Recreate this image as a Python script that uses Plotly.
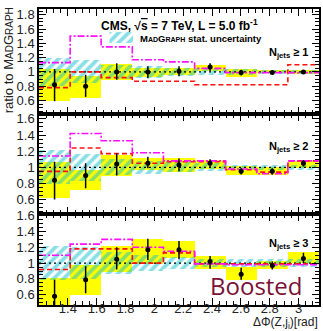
import plotly.graph_objects as go

# ---------------- data ----------------
bin_edges = [1.2, 1.416, 1.631, 1.847, 2.063, 2.279, 2.494, 2.710, 2.926, 3.142]

# Njets >= 1
data1 = [0.82, 0.80, 1.00, 1.00, 1.01, 1.07, 0.99, 0.99, 1.00]
err_hi1 = [1.04, 0.96, 1.12, 1.08, 1.08, 1.12, 1.03, 1.02, 1.02]
err_lo1 = [0.59, 0.65, 0.89, 0.91, 0.94, 1.01, 0.95, 0.97, 0.98]
syst_hi1 = [1.04, 0.94, 1.11, 1.06, 1.06, 1.10, 1.04, 1.02, 1.03]
syst_lo1 = [0.60, 0.64, 0.89, 0.93, 0.95, 1.01, 0.93, 0.98, 0.97]
mcstat1 = [0.20, 0.16, 0.10, 0.08, 0.06, 0.05, 0.04, 0.03, 0.03]
red1 = [0.78, 1.00, 0.92, 0.87, 0.87, 0.82, 0.82, 0.82, 1.10]
mag1 = [1.13, 1.50, 1.35, 1.17, 1.14, 1.05, 0.99, 0.99, 0.99]

# Njets >= 2
data2 = [0.84, 0.90, 1.04, 1.05, 1.03, 1.05, 0.95, 0.95, 1.05]
err_hi2 = [1.07, 1.05, 1.17, 1.13, 1.11, 1.10, 0.99, 0.99, 1.09]
err_lo2 = [0.60, 0.74, 0.90, 0.99, 0.95, 1.00, 0.91, 0.91, 1.01]
syst_hi2 = [1.07, 0.96, 1.15, 1.12, 1.12, 1.09, 1.01, 1.00, 1.08]
syst_lo2 = [0.62, 0.72, 0.89, 0.97, 0.94, 0.98, 0.91, 0.91, 0.99]
mcstat2 = [0.21, 0.17, 0.10, 0.08, 0.06, 0.05, 0.03, 0.03, 0.03]
red2 = [0.95, 1.24, 1.17, 1.05, 1.07, 1.07, 0.97, 0.94, 1.08]
mag2 = [1.14, 1.42, 1.33, 1.18, 1.08, 1.08, 0.98, 0.92, 1.08]

# Njets >= 3
data3 = [0.58, 0.79, 1.05, 1.17, 1.17, 1.02, 0.86, 0.97, 1.06]
err_hi3 = [0.79, 0.96, 1.20, 1.31, 1.28, 1.09, 0.94, 1.02, 1.13]
err_lo3 = [0.45, 0.62, 0.92, 1.04, 1.05, 0.93, 0.79, 0.92, 1.00]
syst_hi3 = [0.81, 0.98, 1.21, 1.30, 1.28, 1.09, 0.95, 1.03, 1.14]
syst_lo3 = [0.45, 0.60, 0.88, 0.99, 1.06, 0.92, 0.79, 0.93, 1.00]
mcstat3 = [0.21, 0.20, 0.14, 0.10, 0.08, 0.05, 0.05, 0.05, 0.05]
red3 = [0.92, 1.18, 1.18, 1.00, 1.13, 0.99, 0.99, 0.99, 0.99]
mag3 = [1.10, 1.24, 1.30, 1.20, 1.15, 0.99, 0.98, 0.98, 0.98]

x_tick_vals = [1.4, 1.6, 1.8, 2.0, 2.2, 2.4, 2.6, 2.8, 3.0]
x_tick_text = ["1.4", "1.6", "1.8", "2", "2.2", "2.4", "2.6", "2.8", "3"]
y_tick_vals = [0.6, 0.8, 1.0, 1.2, 1.4, 1.6, 1.8]
y_tick_text = ["0.6", "0.8", "1", "1.2", "1.4", "1.6", "1.8"]

panels = [
    dict(data=data1, hi=err_hi1, lo=err_lo1, shi=syst_hi1, slo=syst_lo1, mc=mcstat1, red=red1, mag=mag1,
         label="N<sub>jets</sub> ≥ 1", yrange=[0.41, 1.88], domain=[0.645, 1.0]),
    dict(data=data2, hi=err_hi2, lo=err_lo2, shi=syst_hi2, slo=syst_lo2, mc=mcstat2, red=red2, mag=mag2,
         label="N<sub>jets</sub> ≥ 2", yrange=[0.42, 1.66], domain=[0.307, 0.645]),
    dict(data=data3, hi=err_hi3, lo=err_lo3, shi=syst_hi3, slo=syst_lo3, mc=mcstat3, red=red3, mag=mag3,
         label="N<sub>jets</sub> ≥ 3", yrange=[0.47, 1.62], domain=[0.0, 0.307]),
]

centers = [(a + b) / 2 for a, b in zip(bin_edges[:-1], bin_edges[1:])]
widths = [b - a for a, b in zip(bin_edges[:-1], bin_edges[1:])]
xr = [bin_edges[0], bin_edges[-1]]

W, H = 323, 331
ML, MR, MT, MB = 39, 2, 9, 26
PW, PH = W - ML - MR, H - MT - MB


def px(x):
    return (x - ML) / PW


def py(y):
    return 1 - (y - MT) / PH


FONT = "Liberation Sans, Arial, sans-serif"
HATCH = dict(shape="/", fgcolor="#12bfcc", size=7, solidity=0.55, fillmode="overlay")
fig = go.Figure()
annotations = []

for i, p in enumerate(panels):
    n = i + 1
    xa = "x" if n == 1 else f"x{n}"
    ya = "y" if n == 1 else f"y{n}"
    # yellow systematic boxes
    fig.add_trace(go.Bar(x=centers, y=[h - l for h, l in zip(p["shi"], p["slo"])], base=p["slo"],
                         width=widths, marker=dict(color="#ffff00", line=dict(width=0)),
                         xaxis=xa, yaxis=ya, showlegend=False, hoverinfo="skip"))
    # hatched MC stat band
    fig.add_trace(go.Bar(x=centers, y=[2 * m for m in p["mc"]], base=[1 - m for m in p["mc"]],
                         width=widths,
                         marker=dict(color="rgba(0,0,0,0)", line=dict(width=0), pattern=HATCH),
                         xaxis=xa, yaxis=ya, showlegend=False, hoverinfo="skip"))
    # dotted line at 1
    fig.add_trace(go.Scatter(x=xr, y=[1, 1], mode="lines", line=dict(color="black", width=1.2, dash="2px,3px"),
                             xaxis=xa, yaxis=ya, showlegend=False, hoverinfo="skip"))
    # red dashed
    fig.add_trace(go.Scatter(x=bin_edges, y=p["red"] + [p["red"][-1]], mode="lines", line_shape="hv",
                             line=dict(color="#ff1010", width=1.6, dash="5px,3px"),
                             xaxis=xa, yaxis=ya, showlegend=False, hoverinfo="skip"))
    # magenta dash-dot
    fig.add_trace(go.Scatter(x=bin_edges, y=p["mag"] + [p["mag"][-1]], mode="lines", line_shape="hv",
                             line=dict(color="#ff10ff", width=1.6, dash="7px,2px,2px,2px"),
                             xaxis=xa, yaxis=ya, showlegend=False, hoverinfo="skip"))
    # data points
    fig.add_trace(go.Scatter(x=centers, y=p["data"], mode="markers",
                             marker=dict(color="black", size=5),
                             error_y=dict(type="data", symmetric=False,
                                          array=[h - d for h, d in zip(p["hi"], p["data"])],
                                          arrayminus=[d - l for d, l in zip(p["data"], p["lo"])],
                                          color="black", thickness=1.5, width=0),
                             xaxis=xa, yaxis=ya, showlegend=False, hoverinfo="skip"))

layout_axes = {}
for i, p in enumerate(panels):
    n = i + 1
    xkey = "xaxis" if n == 1 else f"xaxis{n}"
    ykey = "yaxis" if n == 1 else f"yaxis{n}"
    layout_axes[xkey] = dict(
        range=xr, domain=[0, 1], anchor="y" if n == 1 else f"y{n}",
        showgrid=False, zeroline=False, showline=True, linecolor="black", linewidth=1.5,
        mirror="allticks", ticks="inside", ticklen=7, tickwidth=1, tickcolor="black",
        tickvals=x_tick_vals, ticktext=x_tick_text, showticklabels=(n == 3),
        tickfont=dict(family=FONT, size=13, color="#222"), ticklabelstandoff=-9,
        minor=dict(ticks="inside", ticklen=4, dtick=0.05, tick0=1.2, tickcolor="black", showgrid=False),
        matches="x" if n > 1 else None,
    )
    layout_axes[ykey] = dict(
        range=p["yrange"], domain=p["domain"], anchor="x" if n == 1 else f"x{n}",
        showgrid=False, zeroline=False, showline=True, linecolor="black", linewidth=1.5,
        mirror="allticks", ticks="inside", ticklen=7, tickwidth=1, tickcolor="black",
        tickvals=y_tick_vals, ticktext=y_tick_text,
        tickfont=dict(family=FONT, size=13, color="#222"),
        minor=dict(ticks="inside", ticklen=4, dtick=0.05, tick0=0.4, tickcolor="black", showgrid=False),
    )

# N_jets labels
label_y = [53, 147, 244]
for p, yy in zip(panels, label_y):
    annotations.append(dict(x=px(290), y=py(yy), xref="paper", yref="paper", text="<b>" + p["label"] + "</b>",
                            showarrow=False, font=dict(family=FONT, size=11, color="black"),
                            xanchor="center", yanchor="middle"))

# CMS text
annotations.append(dict(x=px(180), y=py(25), xref="paper", yref="paper",
                        text="<b>CMS, √<span style='text-decoration:overline'>s</span> = 7 TeV, L = 5.0 fb<sup>-1</sup></b>",
                        showarrow=False, font=dict(family=FONT, size=12, color="black"),
                        xanchor="center", yanchor="middle"))
# legend text
annotations.append(dict(x=px(139), y=py(38), xref="paper", yref="paper",
                        text="<b>M<span style='font-size:7px'>AD</span>G<span style='font-size:7px'>RAPH</span> stat. uncertainty</b>",
                        showarrow=False, font=dict(family=FONT, size=9.5, color="black"),
                        xanchor="left", yanchor="middle"))
# y title
annotations.append(dict(x=px(9), y=py(60), xref="paper", yref="paper", textangle=-90,
                        text="ratio to M<span style='font-size:10px'>AD</span>G<span style='font-size:10px'>RAPH</span>",
                        showarrow=False, font=dict(family=FONT, size=13, color="#222"),
                        xanchor="center", yanchor="middle"))
# x title
annotations.append(dict(x=px(322), y=py(323), xref="paper", yref="paper",
                        text="ΔΦ(Z,j<sub>i</sub>)[rad]",
                        showarrow=False, font=dict(family=FONT, size=12, color="#222"),
                        xanchor="right", yanchor="middle"))
# Boosted
annotations.append(dict(x=px(258), y=py(285), xref="paper", yref="paper",
                        text="Boosted", showarrow=False,
                        font=dict(family="Open Sans, Noto Sans, sans-serif", size=24, color="#7a1236"),
                        xanchor="center", yanchor="middle"))

fig.update_layout(
    width=W, height=H, margin=dict(l=ML, r=MR, t=MT, b=MB),
    paper_bgcolor="white", plot_bgcolor="rgba(0,0,0,0)",
    barmode="overlay", bargap=0, showlegend=False,
    annotations=annotations,
    **layout_axes,
)

# legend hatch sample as a bar on an auxiliary axis
fig.add_trace(go.Bar(x=[0.5], y=[1], base=[0], width=[1],
                     marker=dict(color="rgba(0,0,0,0)", line=dict(width=0), pattern=HATCH),
                     xaxis="x4", yaxis="y4", showlegend=False, hoverinfo="skip"))
fig.update_layout(
    xaxis4=dict(domain=[px(110), px(134)], range=[0, 1], visible=False, anchor="y4"),
    yaxis4=dict(domain=[py(43), py(32)], range=[0, 1], visible=False, anchor="x4"),
)

fig.write_html("out.html")
